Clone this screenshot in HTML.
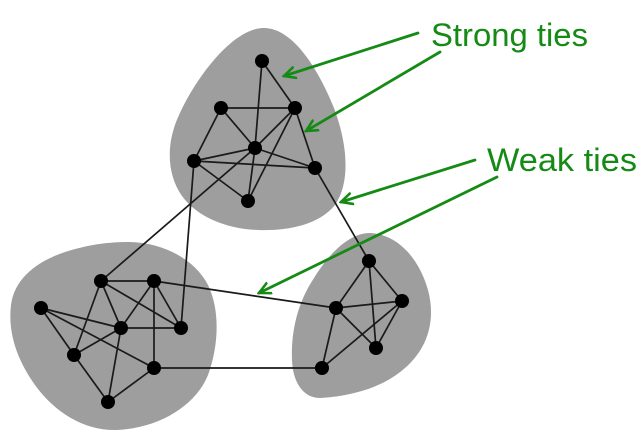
<!DOCTYPE html>
<html>
<head>
<meta charset="utf-8">
<style>
html,body{margin:0;padding:0;background:#fff;}
svg{display:block;}
</style>
</head>
<body>
<svg width="638" height="438" viewBox="0 0 638 438" xmlns="http://www.w3.org/2000/svg">
<defs>
<marker id="ah" viewBox="0 0 14 14" refX="12" refY="7" markerWidth="14" markerHeight="14" markerUnits="userSpaceOnUse" orient="auto">
<path d="M1,1.5 L12,7 L1,12.5" fill="none" stroke="#158a15" stroke-width="2.6" stroke-linecap="round" stroke-linejoin="miter"/>
</marker>
</defs>
<!-- blobs -->
<g fill="#9e9e9e">
<path d="M263,28 C292,27 318,68 334,108 C346,140 352,180 335,205 C318,226 285,231 258,230 C228,229 198,218 182,196 C168,176 167,150 174,128 C186,92 228,29 263,28 Z"/>
<path d="M130,242 C165,243 195,260 208,285 C220,310 219,345 208,375 C196,405 160,428 117,430 C85,431 55,413 35,385 C15,357 8,330 11,305 C14,280 35,262 65,252 C90,244 110,242 130,242 Z"/>
<path d="M370,233 C395,234 418,255 428,290 C436,320 428,348 405,368 C385,386 355,396 320,398 C305,398 293,385 292,360 C291,335 296,305 314,278 C330,252 350,233 370,233 Z"/>
</g>
<!-- edges -->
<g stroke="#1a1a1a" stroke-width="1.7" fill="none">
<line x1="262" y1="61" x2="255" y2="148"/>
<line x1="262" y1="61" x2="295" y2="108"/>
<line x1="221" y1="108" x2="295" y2="108"/>
<line x1="221" y1="108" x2="255" y2="148"/>
<line x1="221" y1="108" x2="194" y2="161"/>
<line x1="295" y1="108" x2="255" y2="148"/>
<line x1="295" y1="108" x2="248" y2="201"/>
<line x1="295" y1="108" x2="315" y2="168"/>
<line x1="255" y1="148" x2="194" y2="161"/>
<line x1="255" y1="148" x2="315" y2="168"/>
<line x1="255" y1="148" x2="248" y2="201"/>
<line x1="194" y1="161" x2="315" y2="168"/>
<line x1="194" y1="161" x2="248" y2="201"/>
<!-- weak -->
<line x1="255" y1="148" x2="101" y2="281"/>
<line x1="194" y1="161" x2="181" y2="328"/>
<line x1="315" y1="168" x2="369" y2="261"/>
<line x1="154" y1="281" x2="336" y2="308"/>
<line x1="154" y1="368" x2="322" y2="368"/>
<!-- lower-left -->
<line x1="101" y1="281" x2="154" y2="281"/>
<line x1="101" y1="281" x2="74" y2="355"/>
<line x1="101" y1="281" x2="121" y2="328"/>
<line x1="101" y1="281" x2="181" y2="328"/>
<line x1="154" y1="281" x2="121" y2="328"/>
<line x1="154" y1="281" x2="181" y2="328"/>
<line x1="154" y1="281" x2="154" y2="368"/>
<line x1="41" y1="308" x2="121" y2="328"/>
<line x1="41" y1="308" x2="74" y2="355"/>
<line x1="41" y1="308" x2="154" y2="368"/>
<line x1="121" y1="328" x2="181" y2="328"/>
<line x1="121" y1="328" x2="74" y2="355"/>
<line x1="121" y1="328" x2="108" y2="402"/>
<line x1="74" y1="355" x2="108" y2="402"/>
<line x1="154" y1="368" x2="108" y2="402"/>
<!-- right -->
<line x1="369" y1="261" x2="336" y2="308"/>
<line x1="369" y1="261" x2="402" y2="301"/>
<line x1="369" y1="261" x2="376" y2="348"/>
<line x1="336" y1="308" x2="402" y2="301"/>
<line x1="336" y1="308" x2="376" y2="348"/>
<line x1="336" y1="308" x2="322" y2="368"/>
<line x1="402" y1="301" x2="376" y2="348"/>
<line x1="402" y1="301" x2="322" y2="368"/>
</g>
<!-- nodes -->
<g fill="#000">
<circle cx="262" cy="61" r="7"/>
<circle cx="221" cy="108" r="7"/>
<circle cx="295" cy="108" r="7"/>
<circle cx="255" cy="148" r="7"/>
<circle cx="194" cy="161" r="7"/>
<circle cx="315" cy="168" r="7"/>
<circle cx="248" cy="201" r="7"/>
<circle cx="101" cy="281" r="7"/>
<circle cx="154" cy="281" r="7"/>
<circle cx="41" cy="308" r="7"/>
<circle cx="121" cy="328" r="7"/>
<circle cx="181" cy="328" r="7"/>
<circle cx="74" cy="355" r="7"/>
<circle cx="154" cy="368" r="7"/>
<circle cx="108" cy="402" r="7"/>
<circle cx="369" cy="261" r="7"/>
<circle cx="336" cy="308" r="7"/>
<circle cx="402" cy="301" r="7"/>
<circle cx="376" cy="348" r="7"/>
<circle cx="322" cy="368" r="7"/>
</g>
<!-- green arrows -->
<g stroke="#158a15" stroke-width="2.8" fill="none" stroke-linecap="round">
<line x1="418" y1="33" x2="284" y2="76" marker-end="url(#ah)"/>
<line x1="440" y1="52" x2="306" y2="131" marker-end="url(#ah)"/>
<line x1="475" y1="160" x2="341" y2="202" marker-end="url(#ah)"/>
<line x1="497" y1="177" x2="259" y2="293" marker-end="url(#ah)"/>
</g>
<g fill="#158a15" font-family="'Liberation Sans', Arial, sans-serif" font-size="32">
<text x="431" y="46" textLength="157" lengthAdjust="spacingAndGlyphs">Strong ties</text>
<text x="487" y="171" textLength="150" lengthAdjust="spacingAndGlyphs">Weak ties</text>
</g>
</svg>
</body>
</html>
